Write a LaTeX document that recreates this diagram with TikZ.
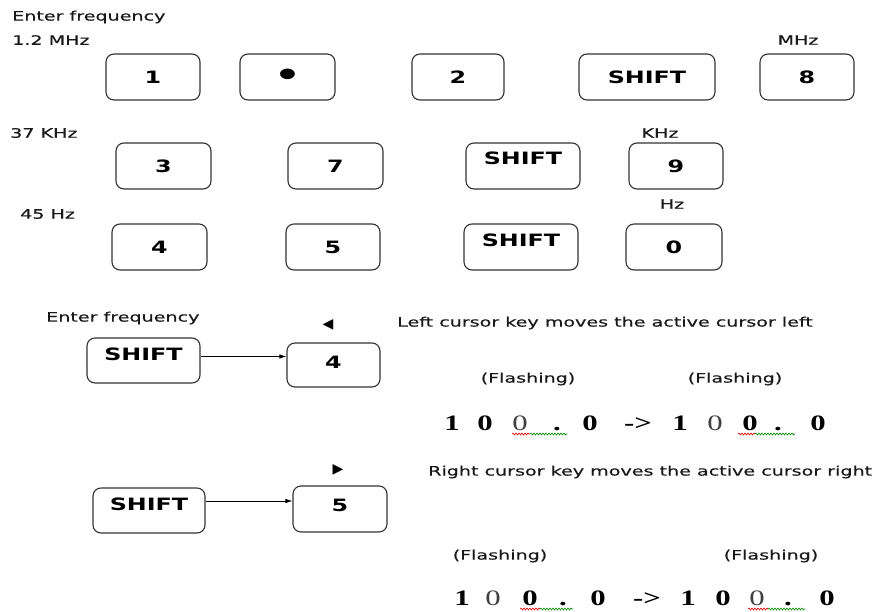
\documentclass[tikz,border=0pt]{standalone}
\usepackage{fontspec}
\usetikzlibrary{decorations.pathmorphing,arrows.meta}
\newfontfamily\lblfam[FakeStretch=1.47,FakeBold=0.4]{DejaVu Sans}
\newfontfamily\keyfam[FakeStretch=1.4]{DejaVu Sans}
\newfontfamily\symfam{DejaVu Sans}
\newfontfamily\digfam[FakeStretch=1.4]{Liberation Serif}
\begin{document}
\begin{tikzpicture}[x=1pt,y=-1pt,
  key/.style={draw=black!80, line width=1.1pt, rounded corners=8pt, inner sep=0pt,
    font=\keyfam\bfseries\fontsize{17}{20}\selectfont, text=black},
  keytext/.style={inner sep=0pt, font=\keyfam\bfseries\fontsize{17}{20}\selectfont, text=black},
  lbl/.style={inner sep=0pt, font=\lblfam\fontsize{13}{15}\selectfont, text=black!90},
  sym/.style={inner sep=0pt, font=\symfam\fontsize{14}{16}\selectfont},
  dig/.style={inner sep=0pt, anchor=base, font=\digfam\bfseries\fontsize{22}{26}\selectfont},
  thn/.style={inner sep=0pt, anchor=base, font=\digfam\fontsize{22}{26}\selectfont, text=black!75},
  arr/.style={-{Latex[length=7pt,width=4.5pt]}, line width=0.8pt},
  wavyr/.style={draw=red!85!black, line width=0.6pt, decorate, decoration={snake, amplitude=1pt, segment length=3pt}},
  wavyg/.style={draw=green!55!black, line width=0.6pt, decorate, decoration={snake, amplitude=1pt, segment length=3pt}}
]
\useasboundingbox (0,0) rectangle (882,612);
\fill[white] (0,0) rectangle (882,612);

% ---- labels, first part
\node[lbl, anchor=west] (ef1) at (12,17) {Enter frequency};
\node[lbl, anchor=west] (f1) at (12,40) {1.2 MHz};
\node[lbl] (mhz) at (798,40) {MHz};
\node[lbl, anchor=west] (f2) at (10,133) {37 KHz};
\node[lbl] (khz) at (660,133) {KHz};
\node[lbl, anchor=west] (f3) at (20,214) {45 Hz};
\node[lbl] (hz) at (672,204) {Hz};

% ---- row 1
\node[key, minimum width=94, minimum height=46] (k1) at (153,77) {1};
\node[key, minimum width=95, minimum height=46, font=\keyfam\bfseries\fontsize{30}{30}\selectfont] (kdot) at (287.5,77) {•};
\node[key, minimum width=92, minimum height=46] (k2) at (458,77) {2};
\node[key, minimum width=136, minimum height=46] (ks1) at (647,77) {SHIFT};
\node[key, minimum width=94, minimum height=46] (k8) at (807,77) {8};

% ---- row 2
\node[key, minimum width=95, minimum height=46] (k3) at (163.5,166) {3};
\node[key, minimum width=95, minimum height=46] (k7) at (335.5,166) {7};
\node[key, minimum width=114, minimum height=46] (ks2) at (523,166) {};
\node[keytext] (ks2t) at (523,158) {SHIFT};
\node[key, minimum width=94, minimum height=46] (k9) at (676,166) {9};

% ---- row 3
\node[key, minimum width=95, minimum height=46] (k4) at (159.5,247) {4};
\node[key, minimum width=94, minimum height=46] (k5) at (333,247) {5};
\node[key, minimum width=114, minimum height=46] (ks3) at (521,247) {};
\node[keytext] (ks3t) at (521,240) {SHIFT};
\node[key, minimum width=96, minimum height=46] (k0) at (674,247) {0};

% ---- left cursor
\node[lbl, anchor=west] (ef2) at (46,318) {Enter frequency};
\node[key, minimum width=113, minimum height=45] (ks4) at (143.5,360.5) {};
\node[keytext] (ks4t) at (143.5,354) {SHIFT};
\node[key, minimum width=93, minimum height=44] (kl4) at (333.5,365) {};
\node[keytext] (kl4t) at (333.5,362) {4};
\draw[arr] (ks4.east |- 0,356.5) -- (kl4.west |- 0,356.5);
\node[sym] (tl) at (328,325) {◀};
\node[lbl, anchor=west] (lc) at (397,323) {Left cursor key moves the active cursor left};
\node[lbl] (fl1) at (528,379) {(Flashing)};
\node[lbl] (fl2) at (735,379) {(Flashing)};

\node[dig] (a1) at (452,430.5) {1};
\node[dig] (a2) at (485,430.5) {0};
\node[thn] (a3) at (520,430.5) {0};
\node[dig] (a4) at (557,430.5) {.};
\node[dig] (a5) at (590,430.5) {0};
\node[dig] (a6) at (638,430.5) {->};
\node[dig] (a7) at (680,430.5) {1};
\node[thn] (a8) at (715,430.5) {0};
\node[dig] (a9) at (750,430.5) {0};
\node[dig] (a10) at (778,430.5) {.};
\node[dig] (a11) at (818,430.5) {0};
\coordinate (w1a) at (512,434); \coordinate (w1b) at (530,434); \coordinate (w1c) at (567,434);
\draw[wavyr] (w1a) -- (w1b); \draw[wavyg] (w1b) -- (w1c);
\coordinate (w2a) at (738,434); \coordinate (w2b) at (755,434); \coordinate (w2c) at (795,434);
\draw[wavyr] (w2a) -- (w2b); \draw[wavyg] (w2b) -- (w2c);

% ---- right cursor
\node[key, minimum width=112, minimum height=45] (ks5) at (149,510.5) {};
\node[keytext] (ks5t) at (149,504) {SHIFT};
\node[key, minimum width=94, minimum height=46] (kr5) at (340,509) {};
\node[keytext] (kr5t) at (340,505) {5};
\draw[arr] (ks5.east |- 0,501) -- (kr5.west |- 0,501);
\node[sym] (tr) at (338,470) {▶};
\node[lbl, anchor=west] (rc) at (428,472) {Right cursor key moves the active cursor right};
\node[lbl] (fl3) at (500,556) {(Flashing)};
\node[lbl] (fl4) at (771,556) {(Flashing)};

\node[dig] (b1) at (462,605.5) {1};
\node[thn] (b2) at (493,605.5) {0};
\node[dig] (b3) at (530,605.5) {0};
\node[dig] (b4) at (563,605.5) {.};
\node[dig] (b5) at (598,605.5) {0};
\node[dig] (b6) at (647,605.5) {->};
\node[dig] (b7) at (688,605.5) {1};
\node[dig] (b8) at (723,605.5) {0};
\node[thn] (b9) at (757,605.5) {0};
\node[dig] (b10) at (788,605.5) {.};
\node[dig] (b11) at (827,605.5) {0};
\coordinate (w3a) at (520,609); \coordinate (w3b) at (540,609); \coordinate (w3c) at (573,609);
\draw[wavyr] (w3a) -- (w3b); \draw[wavyg] (w3b) -- (w3c);
\coordinate (w4a) at (748,609); \coordinate (w4b) at (768,609); \coordinate (w4c) at (805,609);
\draw[wavyr] (w4a) -- (w4b); \draw[wavyg] (w4b) -- (w4c);
\end{tikzpicture}
\end{document}
